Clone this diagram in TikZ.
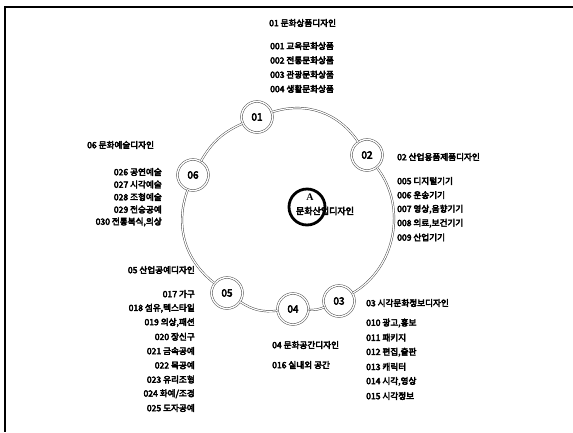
\documentclass[tikz,border=0pt]{standalone}
\usepackage{fontspec}
\newfontfamily\krfont{Noto Sans CJK KR}[FakeBold=4.5]
\newfontfamily\romanfont{Liberation Serif}
\usetikzlibrary{positioning}

\begin{document}
\begin{tikzpicture}[
    x=1pt, y=1pt,
    stage/.style={circle, draw=black!75, double, double distance=1.4pt, line width=0.45pt,
      minimum size=31pt, inner sep=0pt, font=\krfont\fontsize{10}{12}\selectfont},
    hub/.style={circle, draw, line width=2.8pt, minimum size=36pt, inner sep=0pt},
    ring/.style={draw=black!75, double, double distance=1.2pt, line width=0.45pt},
    head/.style={font=\krfont\fontsize{8.6}{10}\selectfont, inner sep=0pt},
    item/.style={head},
    frame/.style={line width=1.1pt}
]
\useasboundingbox (0,0) rectangle (573,-432);
\draw[frame] (573,-7) -| (5,-432);

% ring of stages
\node[stage] (c1) at (257,-117) {01};
\node[stage] (c2) at (367,-155) {02};
\node[stage] (c3) at (339,-301) {03};
\node[stage] (c4) at (293,-309) {04};
\node[stage] (c5) at (227,-293) {05};
\node[stage] (c6) at (193,-175) {06};

\foreach \x/\y/\b in {c1/c2/37, c2/c3/49, c3/c4/13, c4/c5/20, c5/c6/36, c6/c1/18}
  \draw[ring] (\x) to[bend left=\b] (\y);

% centre
\node[hub] (hub) at (307,-207) {};
\node[font=\romanfont\bfseries\fontsize{10}{12}\selectfont, inner sep=0pt] (a) at (310,-197) {A};
\node[font=\krfont\fontsize{9}{11}\selectfont, inner sep=0pt] (core) at (325,-211) {문화산업디자인};

% 01
\node[head, anchor=west] (h1) at (269,-23) {01 문화상품디자인};
\foreach \t [count=\i] in {001 교육문화상품, 002 전통문화상품, 003 관광문화상품, 004 생활문화상품}
  \node[item, anchor=west] (g1-\i) at (270,{-46-14.3*(\i-1)}) {\t};

% 02
\node[head, anchor=west] (h2) at (397,-157) {02 산업용품제품디자인};
\foreach \t [count=\i] in {005 디지털기기, 006 운송기기, {007 영상,음향기기}, {008 의료,보건기기}, 009 산업기기}
  \node[item, anchor=west] (g2-\i) at (397,{-181-14.1*(\i-1)}) {\t};

% 03
\node[head, anchor=west] (h3) at (366,-303) {03 시각문화정보디자인};
\foreach \t [count=\i] in {{010 광고,홍보}, 011 패키지, {012 편집,출판}, 013 캐릭터, {014 시각,영상}, 015 시각정보}
  \node[item, anchor=west] (g3-\i) at (366,{-323-14.6*(\i-1)}) {\t};

% 04
\node[head, anchor=west] (h4) at (272,-345) {04 문화공간디자인};
\node[item, anchor=west] (g4-1) at (272,-365) {016 실내외 공간};

% 05
\node[head, anchor=east] (h5) at (195,-270) {05 산업공예디자인};
\foreach \t [count=\i] in {017 가구, {018 섬유,텍스타일}, {019 의상,패션}, 020 장신구, 021 금속공예, 022 목공예, 023 유리조형, 024 화예/조경, 025 도자공예}
  \node[item, anchor=east] (g5-\i) at (195,{-294-14.25*(\i-1)}) {\t};

% 06
\node[head, anchor=west] (h6) at (87,-145) {06 문화예술디자인};
\foreach \t [count=\i] in {026 공연예술, 027 시각예술, 028 조형예술, 029 전승공예, {030 전통복식,의상}}
  \node[item, anchor=east] (g6-\i) at (162,{-172-12.5*(\i-1)}) {\t};

\end{tikzpicture}
\end{document}
